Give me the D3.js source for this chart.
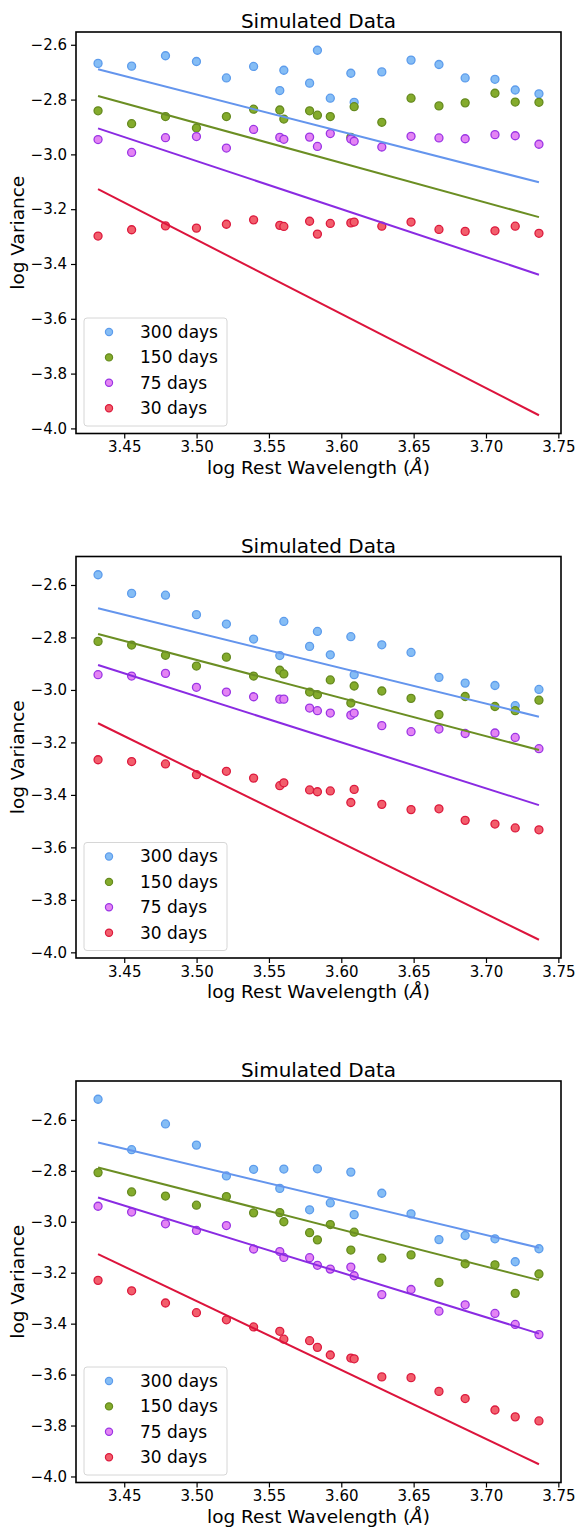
<!DOCTYPE html>
<html>
<head>
<meta charset="utf-8">
<script src="https://cdn.jsdelivr.net/npm/d3@7"></script>
<style>
body { margin: 0; background: #fff; }
svg { display: block; font-family: "DejaVu Sans", sans-serif; }
</style>
</head>
<body>
<svg id="drawing_region"></svg>
<script>
// log rest wavelength of each sample
const wavelengths = [3.4319, 3.4551, 3.4785, 3.4999, 3.5206, 3.5394, 3.5575, 3.5603, 3.5781, 3.5835,
                     3.5924, 3.6066, 3.6089, 3.6280, 3.6482, 3.6675, 3.6856, 3.7062, 3.7202, 3.7366];
const epochs = ["300 days", "150 days", "75 days", "30 days"];

// model lines (value at first and last wavelength)
const fitStart = [-2.689, -2.787, -2.905, -3.127];
const fitEnd   = [-3.102, -3.229, -3.439, -3.952];

// panel 1
const top_300 = [-2.668, -2.678, -2.640, -2.661, -2.721, -2.679, -2.767, -2.693, -2.740, -2.620,
                 -2.795, -2.704, -2.810, -2.699, -2.656, -2.672, -2.721, -2.726, -2.765, -2.779];
const top_150 = [-2.841, -2.888, -2.862, -2.904, -2.862, -2.835, -2.838, -2.871, -2.841, -2.857,
                 -2.862, -2.938, -2.826, -2.883, -2.795, -2.823, -2.812, -2.777, -2.809, -2.810];
const top_75  = [-2.946, -2.993, -2.939, -2.935, -2.977, -2.909, -2.938, -2.945, -2.937, -2.971,
                 -2.924, -2.944, -2.952, -2.973, -2.934, -2.940, -2.943, -2.928, -2.932, -2.963];
const top_30  = [-3.298, -3.275, -3.261, -3.269, -3.255, -3.239, -3.259, -3.263, -3.244, -3.291,
                 -3.252, -3.250, -3.247, -3.262, -3.247, -3.274, -3.281, -3.279, -3.262, -3.288];

// panel 2
const mid_300 = [-2.561, -2.632, -2.639, -2.713, -2.749, -2.806, -2.869, -2.739, -2.834, -2.777,
                 -2.866, -2.797, -2.942, -2.828, -2.857, -2.952, -2.974, -2.983, -3.060, -2.998];
const mid_150 = [-2.815, -2.829, -2.868, -2.909, -2.875, -2.947, -2.925, -2.939, -3.008, -3.018,
                 -2.962, -3.050, -2.985, -3.004, -3.032, -3.094, -3.025, -3.063, -3.079, -3.039];
const mid_75  = [-2.942, -2.947, -2.937, -2.990, -3.008, -3.026, -3.035, -3.035, -3.069, -3.079,
                 -3.088, -3.096, -3.088, -3.136, -3.159, -3.149, -3.166, -3.164, -3.181, -3.224];
const mid_30  = [-3.266, -3.273, -3.282, -3.323, -3.310, -3.336, -3.365, -3.354, -3.381, -3.388,
                 -3.385, -3.429, -3.379, -3.436, -3.456, -3.453, -3.497, -3.511, -3.526, -3.533];

// panel 3
const low_300 = [-2.519, -2.717, -2.616, -2.699, -2.820, -2.794, -2.869, -2.793, -2.953, -2.792,
                 -2.926, -2.805, -2.972, -2.888, -2.969, -3.070, -3.054, -3.067, -3.157, -3.106];
const low_150 = [-2.807, -2.883, -2.899, -2.935, -2.901, -2.965, -2.964, -3.000, -3.043, -3.071,
                 -3.011, -3.111, -3.041, -3.143, -3.130, -3.238, -3.165, -3.169, -3.281, -3.205];
const low_75  = [-2.939, -2.962, -3.008, -3.034, -3.015, -3.107, -3.117, -3.140, -3.141, -3.171,
                 -3.186, -3.178, -3.212, -3.286, -3.266, -3.351, -3.326, -3.360, -3.403, -3.443];
const low_30  = [-3.230, -3.271, -3.319, -3.357, -3.385, -3.413, -3.430, -3.461, -3.467, -3.493,
                 -3.523, -3.535, -3.538, -3.609, -3.612, -3.666, -3.694, -3.739, -3.766, -3.782];

const xTicks = [3.45, 3.50, 3.55, 3.60, 3.65, 3.70, 3.75];
const yTicks = [-4.0, -3.8, -3.6, -3.4, -3.2, -3.0, -2.8, -2.6];

const lineColors = ["#6495ED", "#6B8E23", "#8A2BE2", "#DC143C"];
const fillColors = ["#85bdf5", "#84ab2c", "#e484f3", "#f25e6c"];
const edgeColors = ["#5d9cec", "#658a1f", "#9a35e4", "#dc1a3e"];

const svg = d3.select("#drawing_region")
    .attr("width", 579)
    .attr("height", 1528);

class VariancePlot {

    constructor( config, series ) {
        this.config = {
            top: config.top,
            left: config.left || 76,
            width: config.width || 485,
            height: config.height || 401.5
        };
        this.series = series;
        this.init();
    }

    init() {
        let self = this;

        self.chart = svg.append("g")
            .attr("transform", `translate(${self.config.left}, ${self.config.top})`);

        self.inner_width = self.config.width;
        self.inner_height = self.config.height;

        // matplotlib style 5% margins
        const xe = d3.extent(wavelengths);
        const xpad = (xe[1] - xe[0]) * 0.05;
        self.xscale = d3.scaleLinear()
            .domain([xe[0] - xpad, xe[1] + xpad])
            .range([0, self.inner_width]);

        const allY = self.series.flat().concat(fitStart, fitEnd);
        const ye = d3.extent(allY);
        const ypad = (ye[1] - ye[0]) * 0.05;
        self.yscale = d3.scaleLinear()
            .domain([ye[0] - ypad, ye[1] + ypad])
            .range([self.inner_height, 0]);
    }

    render() {
        let self = this;
        const w = self.inner_width, h = self.inner_height;

        // scatter points (drawn below the lines)
        self.series.forEach( (vals, i) => {
            self.chart.append("g")
                .selectAll("circle")
                .data(vals)
                .enter()
                .append("circle")
                .attr("cx", (d, j) => self.xscale(wavelengths[j]))
                .attr("cy", d => self.yscale(d))
                .attr("r", 4)
                .attr("fill", fillColors[i])
                .attr("stroke", edgeColors[i])
                .attr("stroke-width", 1.3);
        });

        // model lines
        const line = d3.line()
            .x(d => self.xscale(d[0]))
            .y(d => self.yscale(d[1]));
        const x0 = wavelengths[0], x1 = wavelengths[wavelengths.length - 1];
        lineColors.forEach( (c, i) => {
            self.chart.append("path")
                .datum([[x0, fitStart[i]], [x1, fitEnd[i]]])
                .attr("d", line)
                .attr("fill", "none")
                .attr("stroke", c)
                .attr("stroke-width", 2);
        });

        // axes
        const xaxis = d3.axisBottom(self.xscale)
            .tickValues(xTicks)
            .tickSize(5)
            .tickPadding(3)
            .tickFormat(d3.format(".2f"));
        const yaxis = d3.axisLeft(self.yscale)
            .tickValues(yTicks)
            .tickSize(5)
            .tickPadding(4)
            .tickFormat(d3.format(".1f"));

        const gx = self.chart.append("g")
            .attr("transform", `translate(0, ${h})`)
            .call(xaxis);
        const gy = self.chart.append("g")
            .call(yaxis);
        [gx, gy].forEach( g => {
            g.attr("font-size", 15).attr("font-family", "DejaVu Sans");
            g.select(".domain").remove();
            g.selectAll(".tick line").attr("stroke", "#000").attr("stroke-width", 1.2);
            g.selectAll(".tick text").attr("fill", "#000");
        });

        // frame
        self.chart.append("rect")
            .attr("width", w)
            .attr("height", h)
            .attr("fill", "none")
            .attr("stroke", "#000")
            .attr("stroke-width", 1.6);

        // title and labels
        self.chart.append("text")
            .attr("x", w / 2)
            .attr("y", -4)
            .attr("text-anchor", "middle")
            .attr("font-size", 20)
            .text("Simulated Data");

        const xl = self.chart.append("text")
            .attr("x", w / 2)
            .attr("y", h + 40)
            .attr("text-anchor", "middle")
            .attr("font-size", 18.5);
        xl.append("tspan").text("log Rest Wavelength (");
        xl.append("tspan").attr("font-style", "italic").text("Å");
        xl.append("tspan").text(")");

        self.chart.append("text")
            .attr("transform", `translate(${23.5 - self.config.left}, ${h / 2}) rotate(-90)`)
            .attr("text-anchor", "middle")
            .attr("font-size", 18.5)
            .text("log Variance");

        // legend
        const lg = self.chart.append("g")
            .attr("transform", `translate(8, ${h - 7.5 - 108})`);
        lg.append("rect")
            .attr("width", 143)
            .attr("height", 108)
            .attr("rx", 3)
            .attr("fill", "#fff")
            .attr("fill-opacity", 0.8)
            .attr("stroke", "#d6d6d6");
        epochs.forEach( (name, i) => {
            const row = lg.append("g")
                .attr("transform", `translate(0, ${14 + i * 25.4})`);
            row.append("circle")
                .attr("cx", 25)
                .attr("r", 3.6)
                .attr("fill", fillColors[i])
                .attr("stroke", edgeColors[i])
                .attr("stroke-width", 1.2);
            row.append("text")
                .attr("x", 56)
                .attr("dy", "0.35em")
                .attr("font-size", 17)
                .text(name);
        });
    }
}

const panels = [
    { top: 32,    series: [top_300, top_150, top_75, top_30] },
    { top: 556.5, series: [mid_300, mid_150, mid_75, mid_30] },
    { top: 1081,  series: [low_300, low_150, low_75, low_30] }
];

panels.forEach( p => {
    const plot = new VariancePlot({ top: p.top }, p.series);
    plot.render();
});
</script>
</body>
</html>
